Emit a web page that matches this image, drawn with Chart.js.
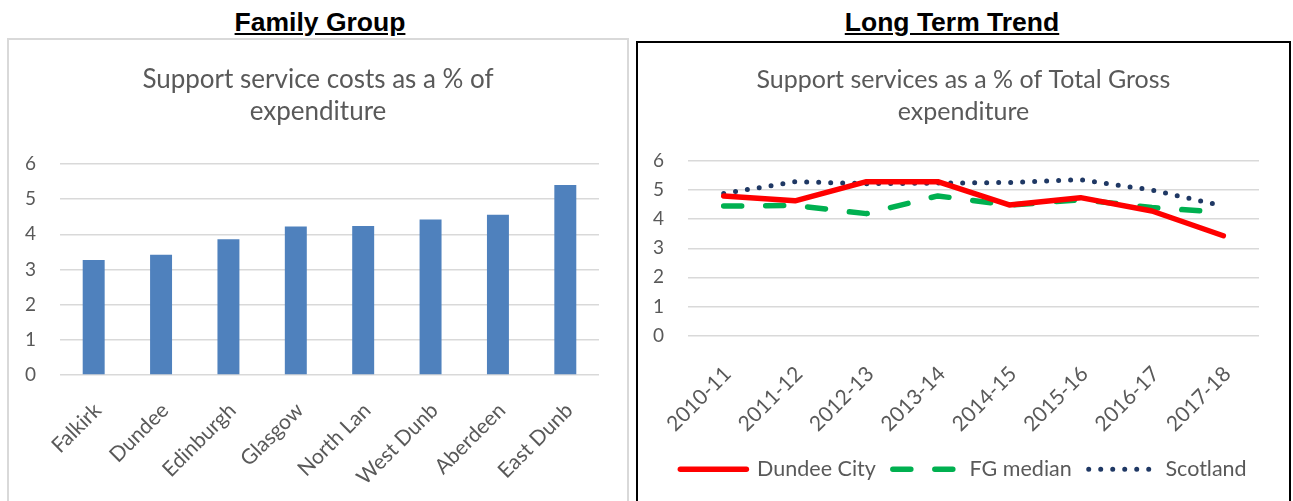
<!DOCTYPE html>
<html>
<head>
<meta charset="utf-8">
<script src="https://cdn.jsdelivr.net/npm/chart.js@4/dist/chart.umd.min.js"></script>
<style>
  html, body { margin: 0; padding: 0; background: #fff; }
  body { width: 1293px; height: 501px; position: relative; overflow: hidden; }
  .heading {
    position: absolute; top: 6px; transform: translateX(-50%);
    font: bold 26.5px "Liberation Sans", Arial, sans-serif; text-decoration: underline;
    color: #000; white-space: nowrap; line-height: 32px;
  }
  .box { position: absolute; box-sizing: border-box; }
  #fgBox { left: 7px; top: 38px; width: 622px; height: 480px; border: 2px solid #d9d9d9; }
  #ltBox { left: 636px; top: 41px; width: 655px; height: 480px; border: 2px solid #000; }
  canvas { position: absolute; }
</style>
</head>
<body>
<div class="heading" style="left:320px">Family Group</div>
<div class="heading" style="left:952px">Long Term Trend</div>
<div class="box" id="fgBox"></div>
<div class="box" id="ltBox"></div>
<canvas id="fgChart" style="left:9px;top:40px" width="618" height="461"></canvas>
<canvas id="ltChart" style="left:638px;top:43px" width="651" height="458"></canvas>
<script>
(function() {
  'use strict';

  // Family group bar chart
  var councils = ['Falkirk', 'Dundee', 'Edinburgh', 'Glasgow', 'North Lan', 'West Dunb', 'Aberdeen', 'East Dunb'];
  var councilValues = [3.27, 3.42, 3.86, 4.22, 4.24, 4.42, 4.56, 5.40];

  // Long term trend line chart
  var years = ['2010-11', '2011-12', '2012-13', '2013-14', '2014-15', '2015-16', '2016-17', '2017-18'];
  var dundeeCity = [4.80, 4.63, 5.29, 5.29, 4.49, 4.74, 4.28, 3.43];
  var fgMedian = [4.45, 4.47, 4.19, 4.80, 4.48, 4.67, 4.40, 4.23];
  var scotland = [4.88, 5.29, 5.22, 5.24, 5.26, 5.36, 5.00, 4.45];
  var yTicks = [0, 1, 2, 3, 4, 5, 6];

  var TEXT_COLOR = '#595959';
  var GRID_COLOR = '#d9d9d9';

  Chart.defaults.font.family = 'Lato';
  Chart.defaults.color = TEXT_COLOR;
  Chart.defaults.animation = false;

  function yScale(width, pad) {
    return {
      min: 0,
      max: 6,
      afterBuildTicks: function(scale) {
        scale.ticks = yTicks.map(function(v) { return { value: v }; });
      },
      afterFit: function(scale) { scale.width = width; },
      border: { display: false },
      grid: { color: GRID_COLOR, lineWidth: 1.5, drawTicks: false },
      ticks: { font: { size: 19 }, padding: pad, color: TEXT_COLOR }
    };
  }

  // empty axis on the right, only to keep space so titles stay centred on the box
  function spacer(width) {
    return {
      position: 'right',
      display: true,
      afterFit: function(scale) { scale.width = width; },
      border: { display: false },
      grid: { display: false },
      ticks: { display: false }
    };
  }

  function xScale(height, pad, shift) {
    return {
      offset: true,
      afterFit: function(scale) { scale.height = height; },
      border: { display: false },
      grid: { display: false, offset: true },
      ticks: { font: { size: 21 }, minRotation: 45, maxRotation: 45, padding: pad, labelOffset: shift, color: TEXT_COLOR, autoSkip: false }
    };
  }

  function dashedLegendLabels(chart) {
    var items = Chart.defaults.plugins.legend.labels.generateLabels(chart);
    items.forEach(function(item) {
      var ds = chart.data.datasets[item.datasetIndex];
      item.lineDash = ds.borderDash || [];
      item.lineCap = ds.borderCapStyle;
      item.lineWidth = ds.borderWidth;
      item.strokeStyle = ds.borderColor;
    });
    return items;
  }

  new Chart(document.getElementById('fgChart').getContext('2d'), {
    type: 'bar',
    data: {
      labels: councils,
      datasets: [{
        data: councilValues,
        backgroundColor: '#4f81bd',
        borderWidth: 0,
        barPercentage: 0.326,
        categoryPercentage: 1
      }]
    },
    options: {
      responsive: false,
      layout: { padding: 0 },
      plugins: {
        legend: { display: false },
        tooltip: { enabled: false },
        title: {
          display: true,
          text: ['Support service costs as a % of', 'expenditure'],
          font: { size: 26, weight: 'normal', lineHeight: 32 / 26 },
          color: TEXT_COLOR,
          padding: { top: 24, bottom: 36 }
        }
      },
      scales: {
        x: xScale(126, 15, 4),
        y: yScale(51, 24),
        pad: spacer(28)
      }
    }
  });

  new Chart(document.getElementById('ltChart').getContext('2d'), {
    type: 'line',
    data: {
      labels: years,
      datasets: [{
        label: 'Dundee City',
        data: dundeeCity,
        borderColor: '#ff0000',
        backgroundColor: '#ff0000',
        borderWidth: 5.5,
        borderCapStyle: 'round',
        borderJoinStyle: 'round',
        pointRadius: 0,
        tension: 0
      }, {
        label: 'FG median',
        data: fgMedian,
        borderColor: '#00b050',
        backgroundColor: '#00b050',
        borderWidth: 5.5,
        borderDash: [18, 24],
        borderCapStyle: 'round',
        borderJoinStyle: 'round',
        pointRadius: 0,
        tension: 0
      }, {
        label: 'Scotland',
        data: scotland,
        borderColor: '#1f3864',
        backgroundColor: '#1f3864',
        borderWidth: 5,
        borderDash: [0, 12],
        borderCapStyle: 'round',
        borderJoinStyle: 'round',
        pointRadius: 0,
        tension: 0
      }]
    },
    options: {
      responsive: false,
      layout: { padding: { left: 0, right: 0, top: 0, bottom: 11 } },
      plugins: {
        tooltip: { enabled: false },
        title: {
          display: true,
          text: ['Support services as a % of Total Gross', 'expenditure'],
          font: { size: 25, weight: 'normal', lineHeight: 32 / 25 },
          color: TEXT_COLOR,
          padding: { top: 21, bottom: 33 }
        },
        legend: {
          position: 'bottom',
          labels: {
            usePointStyle: true,
            pointStyle: 'line',
            pointStyleWidth: 66,
            boxHeight: 20,
            padding: 17,
            font: { size: 21.5 },
            color: TEXT_COLOR,
            generateLabels: dashedLegendLabels
          }
        }
      },
      scales: {
        x: xScale(106, 18, 4),
        y: yScale(50, 24),
        pad: spacer(30)
      }
    }
  });
}());
</script>
</body>
</html>
